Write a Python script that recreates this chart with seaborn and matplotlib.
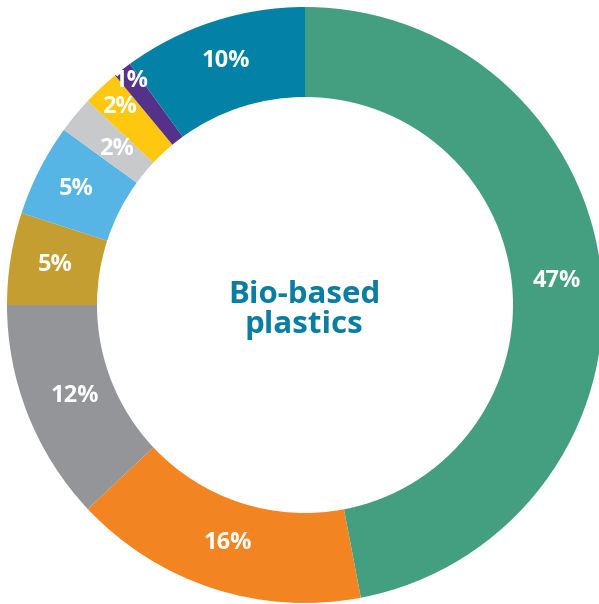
import numpy as np
import matplotlib
matplotlib.use("Agg")
import matplotlib.pyplot as plt
import seaborn as sns

sns.set_theme(style="white")
plt.rcParams['font.family'] = ['Open Sans', 'DejaVu Sans']

# Data (clockwise from top)
values = [47, 16, 12, 5, 5, 2, 2, 1, 10]
labels = ["47%", "16%", "12%", "5%", "5%", "2%", "2%", "1%", "10%"]
colors = ["#449E80", "#F38422", "#939598", "#C49E30", "#57B5E6",
          "#C8C9CA", "#FEC811", "#553289", "#0481A6"]
# label radial placement (fraction of outer radius)
label_r = [0.85, 0.84, 0.83, 0.85, 0.86, 0.82, 0.91, 0.95, 0.86]
center_title = "Bio-based\nplastics"

W, H = 599, 604
cx, cy = 305, 305
R_out, ring = 298, 90

fig = plt.figure(figsize=(W / 100, H / 100), dpi=100)
ax = fig.add_axes([0, 0, 1, 1])
wedges, _ = ax.pie(values, colors=colors, startangle=90, counterclock=False,
                   radius=R_out, wedgeprops=dict(width=ring, edgecolor="none"))
ax.set_xlim(-cx, W - cx)
ax.set_ylim(-(H - cy), cy)
ax.set_aspect("auto")
ax.axis("off")

for w, lab, rf in zip(wedges, labels, label_r):
    ang = np.deg2rad((w.theta1 + w.theta2) / 2)
    r = rf * R_out
    ax.text(r * np.cos(ang), r * np.sin(ang), lab, ha="center", va="center",
            color="white", fontsize=17, fontweight="bold")

ax.text(-1, -5, center_title, ha="center", va="center", color="#0A7EA2",
        fontsize=22.5, fontweight="bold", linespacing=1.0)

fig.savefig("out.png", dpi=100, facecolor="white")
